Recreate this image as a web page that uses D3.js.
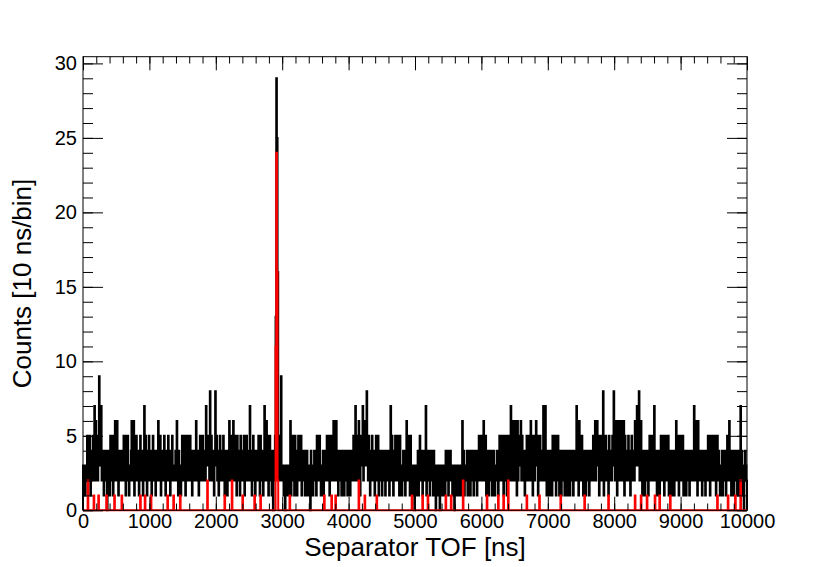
<!DOCTYPE html>
<html>
<head>
<meta charset="utf-8">
<script src="https://cdn.jsdelivr.net/npm/d3@7"></script>
<style>
  body { margin: 0; background: #fff; }
  svg text { font-family: "Liberation Sans", Arial, sans-serif; fill: #000; }
</style>
</head>
<body>
<svg id="chart" width="830" height="567"></svg>
<script>
// bin width in ns, histogram spans 0..10000 ns
const binWidth = 10;
const xTickLabels = d3.range(0, 10001, 1000);
const yTickLabels = d3.range(0, 31, 5);

// all events, counts per 10 ns bin
const allCounts = [
  // 0 - 990 ns
  3,2,3,1,2,3,5,2,4,3, 5,1,3,4,2,5,3,7,2,6, 3,4,2,5,9,3,6,7,2,4, 3,1,4,2,3,4,0,2,4,3, 1,5,3,2,5,1,3,2,6,3,
  2,6,4,1,3,4,2,3,3,4, 2,5,3,4,1,5,2,5,3,1, 3,2,4,6,2,3,6,1,4,2, 5,3,2,4,1,3,5,2,3,4, 1,3,7,2,5,3,1,4,2,5,
  // 1000 - 1990 ns
  3,2,4,1,3,5,2,3,4,1, 2,4,3,6,2,3,5,1,3,2, 4,2,5,3,1,4,2,3,5,2, 3,1,4,2,5,3,2,2,3,4, 2,6,3,1,4,2,3,1,3,5,
  2,4,3,5,1,3,2,5,4,2, 3,5,2,4,1,3,2,4,3,2, 6,2,4,3,1,3,5,2,4,3, 5,2,3,4,2,7,3,3,5,4, 2,8,3,5,2,3,4,1,3,8,
  // 2000 - 2990 ns
  3,5,2,4,1,3,5,2,4,3, 2,5,3,1,4,2,3,1,4,2, 6,3,4,2,5,3,6,2,4,5, 3,1,5,2,4,3,1,5,2,3, 4,2,5,1,3,2,5,3,4,2,
  3,7,2,4,1,3,5,2,4,1, 3,2,4,2,5,3,1,5,2,3, 4,1,3,7,2,3,6,2,5,1, 3,5,2,4,1,3,0,4,2,5, 13,29,25,16,3,2,5,3,9,2,
  // 3000 - 3990 ns
  2,3,1,2,0,3,1,2,3,1, 2,3,6,1,4,2,5,3,1,5, 2,4,1,3,5,2,4,3,5,1, 4,2,3,4,1,3,2,4,1,3, 2,3,0,4,2,3,1,3,4,2,
  3,1,5,2,4,3,5,2,1,3, 2,4,1,3,2,4,3,5,2,4, 5,1,3,5,2,4,3,6,2,5, 3,6,2,4,1,3,4,2,3,1, 4,2,3,1,4,2,3,4,1,3,
  // 4000 - 4990 ns
  2,4,1,3,2,4,2,5,3,2, 7,3,5,2,4,6,3,1,5,3, 4,7,2,5,3,6,3,8,4,2, 5,3,1,4,2,5,3,2,4,1, 3,5,2,4,5,1,3,2,4,3,
  1,4,2,3,4,1,3,2,4,2, 3,1,4,7,2,5,3,1,4,2, 5,3,2,4,5,3,1,5,2,3, 1,3,4,2,3,1,4,6,2,5, 3,4,1,5,2,3,1,2,3,0,
  // 5000 - 5990 ns
  2,1,3,2,4,1,3,5,2,4, 3,1,4,2,3,2,7,1,3,4, 2,4,1,3,4,2,3,1,4,2, 3,0,2,3,1,3,2,0,3,1, 2,3,1,2,3,1,4,2,3,4,
  1,3,2,4,2,3,1,2,3,0, 2,3,1,3,2,1,3,2,3,1, 3,6,2,4,1,3,2,3,4,1, 3,2,4,1,3,2,4,3,1,4, 2,4,3,1,4,3,5,2,4,3,
  // 6000 - 6990 ns
  5,2,3,6,2,4,5,1,3,2, 4,1,3,2,4,3,1,2,4,3, 1,3,2,4,3,1,4,5,2,3, 5,2,4,1,5,3,2,5,1,4, 3,5,2,4,7,2,6,3,5,2,
  6,3,4,1,6,2,5,3,4,6, 2,5,3,4,2,1,4,2,5,3, 4,2,5,3,6,2,4,1,5,3, 2,4,6,3,5,1,4,2,5,3, 4,2,3,7,2,5,7,3,1,4,
  // 7000 - 7990 ns
  2,3,1,4,2,3,1,5,2,4, 3,5,1,4,2,5,3,1,2,4, 1,3,4,2,3,1,4,2,3,1, 4,2,3,1,4,3,2,4,1,3, 2,4,3,7,2,5,1,6,3,4,
  2,5,3,1,4,2,3,1,4,2, 3,4,1,2,4,3,2,4,5,2, 3,6,2,4,6,3,5,1,4,2, 5,3,2,8,1,4,3,5,2,4, 3,1,5,2,4,3,2,5,3,8,
  // 8000 - 8990 ns
  4,2,6,3,1,4,6,2,5,3, 6,2,4,3,6,1,5,3,2,4, 3,5,2,4,1,3,5,2,4,3, 2,6,3,4,7,3,5,8,2,4, 6,3,1,4,2,3,1,4,2,3,
  4,1,3,5,2,4,3,5,2,4, 7,3,2,4,1,3,2,4,1,3, 5,2,4,3,5,1,3,5,2,4, 3,5,1,4,2,3,1,4,2,3, 1,4,3,6,2,4,5,1,3,5,
  // 9000 - 9990 ns
  2,4,3,5,1,3,2,4,1,3, 4,2,3,1,4,2,3,4,2,3, 7,2,6,3,4,1,6,2,4,3, 2,4,1,3,2,4,3,1,4,2, 3,5,2,4,1,5,3,2,5,3,
  4,2,5,1,3,5,2,4,3,1, 3,2,4,1,3,2,4,2,1,3, 5,2,3,6,2,4,1,3,2,4, 1,3,4,2,3,1,4,2,3,1, 7,2,4,1,3,0,2,4,3,2
];

// gated events: bins that are not empty, and their counts
const gatedBins = [7, 16, 23, 35, 47, 58, 86, 93, 102, 127, 136, 146, 187, 213, 224, 240, 258, 267,
  290, 291, 292, 293, 311, 363, 374, 380, 415, 424, 442, 495, 511, 519, 546, 554, 572, 608, 625,
  633, 640, 668, 687, 719, 755, 791, 831, 840, 849, 861, 868, 884, 955, 971, 982, 990];
const gatedCounts = [2, 1, 1, 1, 1, 1, 1, 1, 1, 1, 1, 1, 2, 1, 2, 1, 1, 1,
  11, 24, 16, 2, 1, 1, 1, 1, 2, 1, 1, 1, 1, 1, 1, 1, 2, 1, 1,
  1, 2, 1, 1, 1, 1, 1, 1, 1, 1, 1, 1, 1, 1, 1, 1, 2];

const gatedFull = allCounts.map(() => 0);
gatedBins.forEach((b, i) => { gatedFull[b] = gatedCounts[i]; });

const svg = d3.select('#chart');
const margin = { left: 83, right: 83, top: 56.7, bottom: 56.7 };
const width = +svg.attr('width');
const height = +svg.attr('height');

const x = d3.scaleLinear().domain([0, 10000]).range([margin.left, width - margin.right]);
const y = d3.scaleLinear().domain([0, 30.45]).range([height - margin.bottom, margin.top]);

const x0 = margin.left, x1 = width - margin.right;
const y0 = height - margin.bottom, y1 = margin.top;

// histogram outline as steps
function stepPoints(counts) {
  const pts = [[0, 0]];
  counts.forEach((c, i) => pts.push([i * binWidth, c]));
  pts.push([counts.length * binWidth, counts[counts.length - 1]]);
  pts.push([counts.length * binWidth, 0]);
  return pts;
}

const histLine = d3.line()
  .x(d => x(d[0]))
  .y(d => y(d[1]))
  .curve(d3.curveStepAfter);

svg.append('path')
  .attr('d', histLine(stepPoints(allCounts)))
  .attr('fill', 'none')
  .attr('stroke', '#000')
  .attr('stroke-width', 2);

svg.append('path')
  .attr('d', histLine(stepPoints(gatedFull)))
  .attr('fill', 'none')
  .attr('stroke', '#ff0000')
  .attr('stroke-width', 2);

// frame
svg.append('rect')
  .attr('x', x0).attr('y', y1)
  .attr('width', x1 - x0).attr('height', y0 - y1)
  .attr('fill', 'none').attr('stroke', '#000').attr('stroke-width', 1);

const xMajorLen = 13.6, xMinorLen = 6.8;
const yMajorLen = 20, yMinorLen = 10;
const xMinor = d3.range(0, 10001, 200);
const yMinor = d3.range(0, 31, 1);

function styleAxis(g) {
  g.select('.domain').remove();
  g.selectAll('line').attr('stroke', '#000').attr('stroke-width', 1);
  g.selectAll('text').style('font-size', '20px').attr('fill', '#000');
}

// bottom axis
svg.append('g').attr('transform', `translate(0,${y0})`)
  .call(d3.axisBottom(x).tickValues(xMinor).tickSize(-xMinorLen).tickFormat(''))
  .call(styleAxis);
svg.append('g').attr('transform', `translate(0,${y0})`)
  .call(d3.axisBottom(x).tickValues(xTickLabels).tickSize(-xMajorLen).tickPadding(3.5).tickFormat(d3.format('d')))
  .call(styleAxis);

// top axis
svg.append('g').attr('transform', `translate(0,${y1})`)
  .call(d3.axisTop(x).tickValues(xMinor).tickSize(-xMinorLen).tickFormat(''))
  .call(styleAxis);
svg.append('g').attr('transform', `translate(0,${y1})`)
  .call(d3.axisTop(x).tickValues(xTickLabels).tickSize(-xMajorLen).tickFormat(''))
  .call(styleAxis);

// left axis
svg.append('g').attr('transform', `translate(${x0},0)`)
  .call(d3.axisLeft(y).tickValues(yMinor).tickSize(-yMinorLen).tickFormat(''))
  .call(styleAxis);
svg.append('g').attr('transform', `translate(${x0},0)`)
  .call(d3.axisLeft(y).tickValues(yTickLabels).tickSize(-yMajorLen).tickPadding(6).tickFormat(d3.format('d')))
  .call(styleAxis);

// right axis
svg.append('g').attr('transform', `translate(${x1},0)`)
  .call(d3.axisRight(y).tickValues(yMinor).tickSize(-yMinorLen).tickFormat(''))
  .call(styleAxis);
svg.append('g').attr('transform', `translate(${x1},0)`)
  .call(d3.axisRight(y).tickValues(yTickLabels).tickSize(-yMajorLen).tickFormat(''))
  .call(styleAxis);

// titles
svg.append('text')
  .attr('x', (x0 + x1) / 2).attr('y', 556)
  .attr('text-anchor', 'middle')
  .style('font-size', '26px')
  .text('Separator TOF [ns]');

svg.append('text')
  .attr('transform', `translate(31,${(y0 + y1) / 2}) rotate(-90)`)
  .attr('text-anchor', 'middle')
  .style('font-size', '26px')
  .text('Counts [10 ns/bin]');
</script>
</body>
</html>
